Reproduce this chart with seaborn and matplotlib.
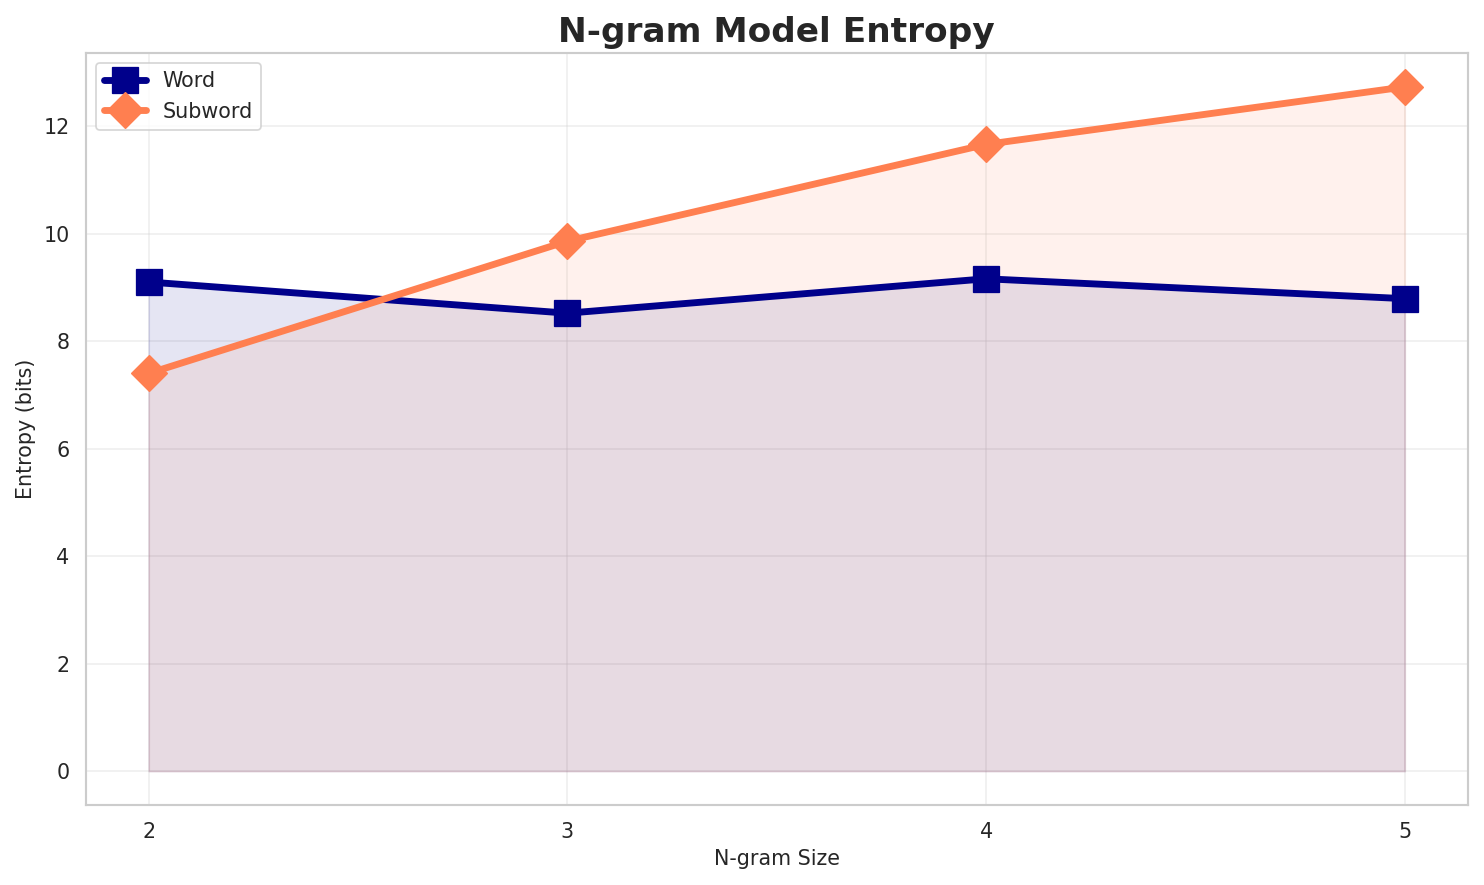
import matplotlib
matplotlib.use("Agg")
import matplotlib.pyplot as plt
import seaborn as sns
import pandas as pd

# N-gram sizes and entropy values (bits)
ngram_sizes = [2, 3, 4, 5]
word_entropy = [9.10, 8.52, 9.16, 8.79]
subword_entropy = [7.40, 9.86, 11.66, 12.73]

df = pd.DataFrame({
    "n": ngram_sizes * 2,
    "entropy": word_entropy + subword_entropy,
    "type": ["Word"] * 4 + ["Subword"] * 4,
})

sns.set_theme(style="whitegrid")
plt.rcParams.update({"xtick.labelsize": 12, "ytick.labelsize": 12,
                     "axes.labelsize": 12, "legend.fontsize": 12})

fig, ax = plt.subplots(figsize=(12, 7.157), dpi=123.67)

styles = {"Word": ("darkblue", "s"), "Subword": ("coral", "D")}
for name, (color, marker) in styles.items():
    sub = df[df["type"] == name]
    sns.lineplot(data=sub, x="n", y="entropy", ax=ax, color=color, marker=marker,
                 markersize=15, linewidth=4, label=name, markeredgecolor=color)
    ax.fill_between(sub["n"], 0, sub["entropy"], color=color, alpha=0.1)

ax.set_xticks(ngram_sizes)
ax.set_title("N-gram Model Entropy", fontsize=20, fontweight="bold")
ax.set_xlabel("N-gram Size")
ax.set_ylabel("Entropy (bits)")
ax.grid(True, alpha=0.3)
for s in ax.spines.values():
    s.set_color("#cccccc")
ax.legend(loc="upper left")

plt.tight_layout(pad=0.8)
plt.savefig("out.png")
